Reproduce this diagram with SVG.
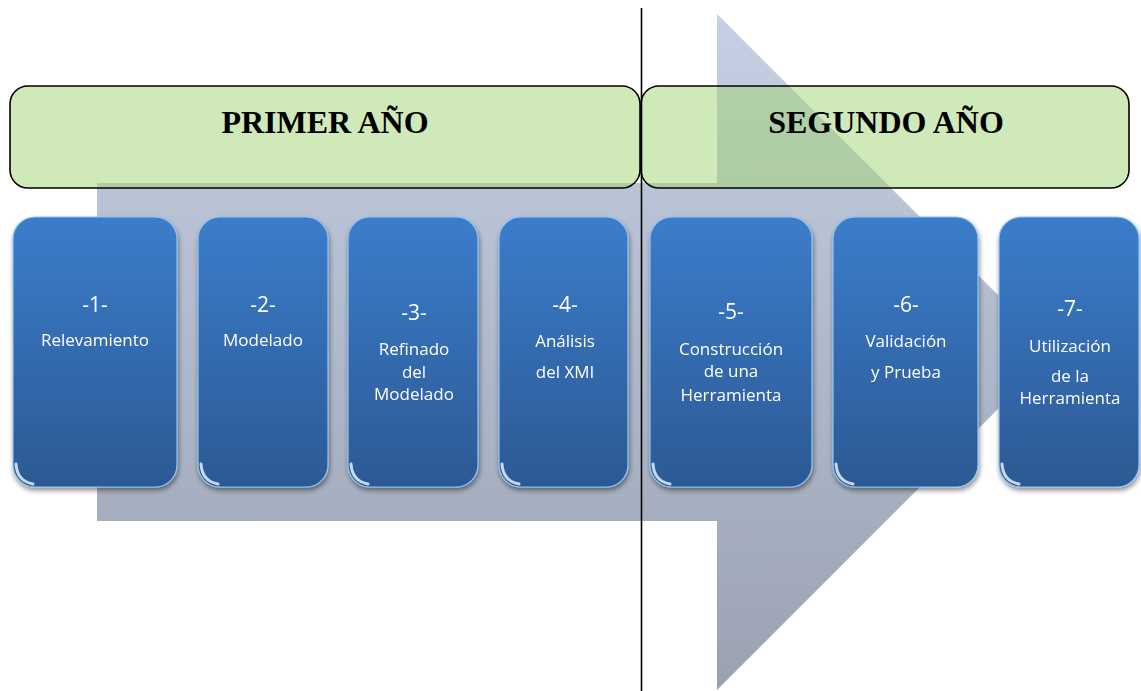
<svg xmlns="http://www.w3.org/2000/svg" width="1141" height="691" viewBox="0 0 1141 691">
<defs>
<linearGradient id="arrowG" x1="0" y1="0" x2="0" y2="1">
<stop offset="0" stop-color="#c6d0e4"/>
<stop offset="1" stop-color="#9aa2b2"/>
</linearGradient>
<linearGradient id="boxG" x1="0" y1="0" x2="0" y2="1">
<stop offset="0" stop-color="#3b7dcb"/>
<stop offset="1" stop-color="#2c5994"/>
</linearGradient>
<filter id="sh" x="-10%" y="-10%" width="130%" height="130%">
<feGaussianBlur in="SourceAlpha" stdDeviation="2.5"/>
<feOffset dx="1" dy="3" result="b"/>
<feComponentTransfer><feFuncA type="linear" slope="0.45"/></feComponentTransfer>
<feMerge><feMergeNode/><feMergeNode in="SourceGraphic"/></feMerge>
</filter>
</defs>
<style>
.hdr{fill:#a1d371;fill-opacity:0.5;stroke:#000;stroke-width:1.6}
.ht{font-family:"Liberation Serif",serif;font-weight:bold;font-size:32px;fill:#000;text-anchor:middle}
.box{fill:url(#boxG);stroke:#8fc4f2;stroke-width:1.2}
.bt{font-family:"Open Sans","Liberation Sans",sans-serif;font-size:17px;fill:#ffffff;text-anchor:middle}
.num{font-size:21px}
.gl{fill:none;stroke:#e2f1ff;stroke-width:3;stroke-linecap:round;opacity:0.85}
</style>
<rect width="1141" height="691" fill="#ffffff"/>
<g id="arrow">
<polygon points="97,183 717,183 717,14 1055,352 717,690 717,521 97,521" fill="url(#arrowG)"/>
</g>
<g id="primer">
<rect class="hdr" x="10" y="86" width="630" height="102" rx="18"/>
<text class="ht" x="325" y="133">PRIMER AÑO</text>
</g>
<g id="segundo">
<rect class="hdr" x="641" y="86" width="488" height="102" rx="18"/>
<text class="ht" x="886" y="133">SEGUNDO AÑO</text>
</g>
<g id="divider">
<line x1="641.5" y1="8" x2="641.5" y2="691" stroke="#000" stroke-width="1.6"/>
</g>
<g id="n1" filter="url(#sh)">
<rect class="box" x="13" y="217" width="164" height="270" rx="22"/>
<path class="gl" d="M16,464 Q17,481 33,484"/>
<text class="bt num" x="95" y="312">-1-</text>
<text class="bt" x="95" y="346">Relevamiento</text>
</g>
<g id="n2" filter="url(#sh)">
<rect class="box" x="198" y="217" width="130" height="270" rx="22"/>
<path class="gl" d="M201,464 Q202,481 218,484"/>
<text class="bt num" x="263" y="312">-2-</text>
<text class="bt" x="263" y="346">Modelado</text>
</g>
<g id="n3" filter="url(#sh)">
<rect class="box" x="348" y="217" width="130" height="270" rx="22"/>
<path class="gl" d="M351,464 Q352,481 368,484"/>
<text class="bt num" x="414" y="320">-3-</text>
<text class="bt" x="414" y="355">Refinado</text>
<text class="bt" x="414" y="378">del</text>
<text class="bt" x="414" y="400">Modelado</text>
</g>
<g id="n4" filter="url(#sh)">
<rect class="box" x="499" y="217" width="129" height="270" rx="22"/>
<path class="gl" d="M502,464 Q503,481 519,484"/>
<text class="bt num" x="565" y="312">-4-</text>
<text class="bt" x="565" y="347">Análisis</text>
<text class="bt" x="565" y="378">del XMI</text>
</g>
<g id="n5" filter="url(#sh)">
<rect class="box" x="650" y="217" width="162" height="270" rx="22"/>
<path class="gl" d="M653,464 Q654,481 670,484"/>
<text class="bt num" x="731" y="319">-5-</text>
<text class="bt" x="731" y="355">Construcción</text>
<text class="bt" x="731" y="377">de una</text>
<text class="bt" x="731" y="401">Herramienta</text>
</g>
<g id="n6" filter="url(#sh)">
<rect class="box" x="833" y="217" width="145" height="270" rx="22"/>
<path class="gl" d="M836,464 Q837,481 853,484"/>
<text class="bt num" x="906" y="312">-6-</text>
<text class="bt" x="906" y="347">Validación</text>
<text class="bt" x="906" y="378">y Prueba</text>
</g>
<g id="n7" filter="url(#sh)">
<rect class="box" x="999" y="217" width="140" height="270" rx="22"/>
<path class="gl" d="M1002,464 Q1003,481 1019,484"/>
<text class="bt num" x="1070" y="316">-7-</text>
<text class="bt" x="1070" y="352">Utilización</text>
<text class="bt" x="1070" y="382">de la</text>
<text class="bt" x="1070" y="404">Herramienta</text>
</g>
</svg>
